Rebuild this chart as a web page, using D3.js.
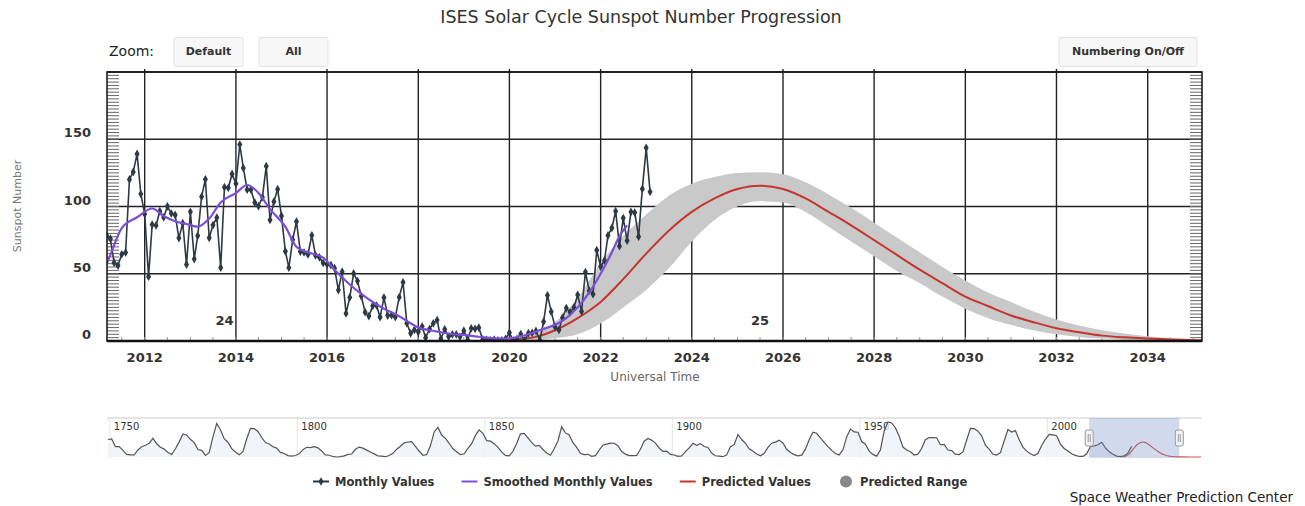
<!DOCTYPE html>
<html lang="en">
<head>
<meta charset="utf-8">
<title>ISES Solar Cycle Sunspot Number Progression</title>
<style>
  body { margin: 0; background: #fff; }
  svg { display: block; font-family: "DejaVu Sans", sans-serif; }
</style>
<script src="https://cdn.jsdelivr.net/npm/d3@7"></script>
</head>
<body>
<div id="viz"></div>
<script>

// observed monthly sunspot numbers, Feb 2011 .. Feb 2023
var monthlyStart = "2011-02";
var monthlyValues = [
  48.3, 78.6, 76.1, 58.2, 56.1, 64.5, 65.8, 120.1, 125.7, 139.1, 109.3,
  94.4, 47.8, 86.6, 85.9, 96.5, 92.0, 100.1, 94.8, 93.7, 76.5, 87.6, 56.8,
  96.1, 60.9, 78.3, 107.3, 120.2, 76.7, 86.2, 91.8, 54.5, 114.4, 113.9, 124.2,
  117.0, 146.1, 128.7, 112.5, 112.5, 102.9, 100.2, 106.9, 130.0, 90.0, 103.6, 112.9,
  93.0, 66.7, 54.5, 75.3, 88.8, 66.5, 65.8, 64.4, 78.6, 63.6, 62.2, 58.0,
  57.0, 56.4, 54.1, 37.9, 51.5, 20.5, 32.4, 50.2, 44.6, 33.4, 21.4, 18.5,
  26.1, 26.4, 17.7, 32.3, 18.9, 19.2, 17.8, 32.6, 43.6, 13.2, 5.7, 8.2,
  6.8, 10.7, 2.5, 8.9, 13.1, 15.6, 1.6, 8.7, 3.3, 4.9, 4.9, 3.1,
  7.7, 0.8, 9.4, 9.1, 9.9, 1.2, 0.9, 0.5, 1.1, 0.4, 0.5, 1.5,
  6.2, 0.2, 1.5, 5.2, 0.2, 5.8, 6.1, 7.5, 0.6, 14.4, 34.0, 21.8,
  10.4, 8.2, 17.2, 24.5, 21.2, 25.0, 34.3, 22.0, 51.3, 37.4, 34.8, 67.5,
  55.3, 59.9, 78.5, 84.1, 96.5, 70.5, 91.4, 74.6, 96.0, 95.5, 77.6, 113.1,
  143.6, 110.9
];

// smoothed monthly values
var smoothedDates = ["2011-03", "2011-04", "2011-07", "2011-11", "2012-03", "2012-06", "2012-09", "2012-12",
  "2013-03", "2013-06", "2013-09", "2014-01", "2014-04", "2014-07", "2014-10", "2015-02", "2015-05",
  "2015-09", "2015-12", "2016-03", "2016-07", "2016-10", "2017-01", "2017-04", "2017-07", "2017-10",
  "2018-01", "2018-04", "2018-07", "2018-10", "2019-01", "2019-04", "2019-07", "2019-12", "2020-04",
  "2020-07", "2020-10", "2021-01", "2021-04", "2021-07", "2021-10", "2022-01", "2022-04", "2022-06", "2022-08"];
var smoothedValues = [57, 64, 84, 92, 98.5, 93, 89, 87,
  85, 91, 103, 110, 116, 110, 98, 85, 70,
  65, 62, 53, 42, 35, 29, 24, 20, 15,
  10, 8, 6.5, 5, 4.5, 3.5, 2.5, 1.8, 3.5,
  6, 9, 12, 17, 25, 36, 50, 66, 78, 86];

// predicted values and range
var predDates = ["2020-01", "2020-07", "2021-01", "2021-07", "2022-01", "2022-07", "2023-01", "2023-07",
  "2024-01", "2024-07", "2025-01", "2025-07", "2026-01", "2026-07", "2027-01", "2027-07", "2028-01",
  "2028-07", "2029-01", "2029-07", "2030-01", "2030-07", "2031-01", "2031-07", "2032-01", "2032-07",
  "2033-01", "2033-07", "2034-01", "2034-07", "2035-01", "2035-07", "2036-07", "2038-01", "2041-01"];
var predValues = [1, 2.5, 8, 17, 29, 46, 65, 82,
  96, 106, 113, 115.5, 113, 106, 96, 86, 75,
  64, 53, 43, 33, 26, 19, 14, 9.5, 6.5,
  4, 2.7, 1.8, 1.1, 0.6, 0.3, 0.2, 0.1, 0];
var predHigh = [1.5, 5, 14, 32, 58, 78, 94, 108,
  117, 122, 125, 125.5, 124, 118, 109, 99, 88,
  77, 66, 55, 45, 36, 29, 22, 16, 11.5,
  8, 5.5, 3.5, 2.2, 1.4, 0.9, 0.5, 0.3, 0.1];
var predLow = [0, 0.5, 2, 5, 13, 25, 38, 54,
  74, 90, 100, 104, 103, 96, 85, 74, 63,
  52, 43, 33, 24, 17, 12, 8, 5, 3,
  1.8, 1, 0.6, 0.3, 0.1, 0, 0, 0, 0];

// yearly sunspot numbers for the navigator, 1749 .. 2022
var historyStart = 1749;
var historyValues = [
  134.7, 139.0, 79.5, 79.7, 51.2, 20.3, 16.0, 17.0, 54.0, 79.3, 90.0, 104.8, 143.2, 102.0, 75.2, 60.7,
  34.8, 19.0, 63.0, 116.3, 176.8, 168.0, 136.0, 110.8, 58.0, 51.0, 11.7, 33.0, 154.2, 257.3, 209.8,
  141.3, 113.5, 64.2, 38.0, 17.0, 40.2, 138.2, 220.0, 218.2, 196.8, 149.8, 111.0, 100.0, 78.2, 68.3,
  35.5, 26.7, 10.7, 6.8, 11.3, 24.2, 56.7, 75.0, 71.8, 79.2, 70.3, 46.8, 16.8, 13.5, 4.2, 0.0, 2.3,
  8.3, 20.3, 23.2, 59.0, 76.3, 68.3, 52.9, 38.5, 24.2, 9.2, 6.3, 2.2, 11.4, 28.2, 59.9, 83.0, 108.5,
  115.2, 117.4, 80.8, 44.3, 13.4, 19.5, 85.8, 192.7, 227.3, 168.7, 143.0, 105.5, 63.3, 40.3, 18.1,
  25.1, 65.8, 102.7, 166.3, 208.3, 182.5, 126.3, 122.0, 102.7, 74.1, 39.0, 12.7, 8.2, 43.4, 104.4,
  178.3, 182.2, 146.6, 112.1, 83.5, 89.2, 57.8, 30.7, 13.9, 62.8, 123.6, 232.0, 185.3, 169.2, 110.1,
  74.5, 28.3, 18.9, 20.7, 5.7, 10.0, 53.7, 90.5, 99.0, 106.1, 105.8, 86.3, 42.4, 21.8, 11.2, 10.4,
  11.8, 59.5, 121.7, 142.0, 130.0, 106.6, 69.4, 43.8, 44.4, 20.2, 15.7, 4.6, 8.5, 40.8, 70.1, 105.5,
  90.1, 102.8, 80.9, 73.2, 30.9, 9.5, 6.0, 2.4, 16.1, 79.0, 95.0, 173.6, 134.6, 105.7, 62.7, 43.5,
  23.7, 9.7, 27.9, 74.0, 106.5, 114.7, 129.7, 108.2, 59.4, 35.1, 18.6, 9.2, 14.6, 60.2, 132.8, 190.6,
  182.6, 148.0, 113.0, 79.2, 50.8, 27.1, 16.1, 55.3, 154.3, 214.7, 193.0, 190.7, 118.9, 98.3, 45.0,
  20.1, 6.6, 54.2, 200.7, 269.3, 261.7, 225.1, 159.0, 76.4, 53.4, 39.9, 15.0, 22.0, 66.8, 132.9,
  150.0, 149.4, 148.0, 94.4, 97.6, 54.1, 49.2, 22.5, 18.4, 39.3, 131.0, 220.1, 218.9, 198.9, 162.4,
  91.0, 60.5, 20.6, 14.8, 33.9, 123.0, 211.1, 191.8, 203.3, 133.0, 76.1, 44.9, 25.1, 11.6, 28.9,
  88.3, 136.3, 173.9, 170.4, 163.6, 99.3, 65.3, 45.8, 24.7, 12.6, 4.2, 4.8, 24.9, 80.8, 84.5, 94.0,
  113.3, 69.8, 39.8, 21.7, 7.0, 3.6, 8.8, 29.6, 83.2
];

var cycleLabels = ["24", "25"];
var cycleDates = ["2013-10", "2025-07"];
var yTicks = [0, 50, 100, 150];
var navTicks = [1750, 1800, 1850, 1900, 1950, 2000];
var legendNames = ["Monthly Values", "Smoothed Monthly Values", "Predicted Values", "Predicted Range"];

var parseM = d3.utcParse("%Y-%m");
var sm = parseM(monthlyStart);
var monthly = monthlyValues.map(function(v, i) {
  return {date: d3.utcMonth.offset(sm, i), value: v};
});
var smoothed = smoothedDates.map(function(d, i) { return {date: parseM(d), value: smoothedValues[i]}; });
var pred = predDates.map(function(d, i) {
  return {date: parseM(d), value: predValues[i], hi: predHigh[i], lo: predLow[i]};
});
var historyData = historyValues.map(function(v, i) {
  return {date: new Date(Date.UTC(historyStart + i, 6, 1)), value: v};
});

var colMonthly = '#2b3a44', colSmooth = '#7d4ed8', colPred = '#c4362c', colRange = '#c9c9c9';

var svg = d3.select('#viz').append('svg').attr('width', 1305).attr('height', 506);

var L = 107, R = 1202, T = 72, B = 341;
var x = d3.scaleUtc()
  .domain([new Date(Date.UTC(2011, 2, 5)), new Date(Date.UTC(2035, 2, 12))])
  .range([L, R]);
var y = d3.scaleLinear().domain([0, 200]).range([B, T]);

// title
svg.append('text').attr('x', 641).attr('y', 23).attr('text-anchor', 'middle')
  .style('font-size', '17.5px').style('fill', '#333')
  .text('ISES Solar Cycle Sunspot Number Progression');

// buttons
svg.append('text').attr('x', 109).attr('y', 56).style('font-size', '14px').style('fill', '#222').text('Zoom:');
var buttons = [
  {label: 'Default', x: 174, w: 69},
  {label: 'All', x: 259, w: 69},
  {label: 'Numbering On/Off', x: 1059, w: 138}
];
buttons.forEach(function(b) {
  svg.append('rect').attr('x', b.x).attr('y', 37.5).attr('width', b.w).attr('height', 29).attr('rx', 2)
    .style('fill', '#f7f7f7').style('stroke', '#e3e3e3');
  svg.append('text').attr('x', b.x + b.w / 2).attr('y', 55).attr('text-anchor', 'middle')
    .style('font-size', '11px').style('fill', '#333').style('font-weight', 'bold').text(b.label);
});

svg.append('clipPath').attr('id', 'plotclip').append('rect')
  .attr('x', L).attr('y', T).attr('width', R - L).attr('height', B - T);

// grid
var grid = svg.append('g');
x.ticks(d3.utcYear.every(2)).forEach(function(d) {
  grid.append('line').attr('x1', x(d)).attr('x2', x(d)).attr('y1', T - 3).attr('y2', B)
    .style('stroke', '#222').style('stroke-width', 1.4);
});
yTicks.concat([200]).forEach(function(v) {
  grid.append('line').attr('x1', L).attr('x2', R).attr('y1', y(v)).attr('y2', y(v))
    .style('stroke', '#222').style('stroke-width', 1.4);
});
// minor ticks
d3.range(0, 200, 2.5).forEach(function(v) {
  grid.append('line').attr('x1', L).attr('x2', L + 12).attr('y1', y(v)).attr('y2', y(v))
    .style('stroke', '#666').style('stroke-width', 1);
  grid.append('line').attr('x1', R - 12).attr('x2', R).attr('y1', y(v)).attr('y2', y(v))
    .style('stroke', '#666').style('stroke-width', 1);
});
x.ticks(d3.utcMonth.every(6)).forEach(function(d) {
  grid.append('line').attr('x1', x(d)).attr('x2', x(d)).attr('y1', B - 4).attr('y2', B)
    .style('stroke', '#999').style('stroke-width', 1);
});

// predicted range and values
var plot = svg.append('g').attr('clip-path', 'url(#plotclip)');
plot.append('path').datum(pred)
  .attr('d', d3.area().curve(d3.curveMonotoneX)
    .x(function(d) { return x(d.date); })
    .y0(function(d) { return y(d.lo); })
    .y1(function(d) { return y(d.hi); }))
  .style('fill', colRange);
plot.append('path').datum(pred)
  .attr('d', d3.line().curve(d3.curveMonotoneX)
    .x(function(d) { return x(d.date); }).y(function(d) { return y(d.value); }))
  .style('fill', 'none').style('stroke', colPred).style('stroke-width', 2);

// monthly
plot.append('path').datum(monthly)
  .attr('d', d3.line().x(function(d) { return x(d.date); }).y(function(d) { return y(d.value); }))
  .style('fill', 'none').style('stroke', colMonthly).style('stroke-width', 1.6);
var diamond = d3.symbol().type(d3.symbolDiamond).size(22);
plot.selectAll('.mk').data(monthly).enter().append('path').attr('class', 'mk')
  .attr('transform', function(d) { return 'translate(' + x(d.date) + ',' + y(d.value) + ')'; })
  .attr('d', diamond).style('fill', colMonthly);

// smoothed
plot.append('path').datum(smoothed)
  .attr('d', d3.line().curve(d3.curveMonotoneX)
    .x(function(d) { return x(d.date); }).y(function(d) { return y(d.value); }))
  .style('fill', 'none').style('stroke', colSmooth).style('stroke-width', 2.2);

// border
svg.append('rect').attr('x', L).attr('y', T).attr('width', R - L).attr('height', B - T)
  .style('fill', 'none').style('stroke', '#111').style('stroke-width', 1.5);
svg.append('line').attr('x1', L).attr('x2', R).attr('y1', B).attr('y2', B)
  .style('stroke', '#111').style('stroke-width', 2.5);

// axis labels
x.ticks(d3.utcYear.every(2)).forEach(function(d) {
  svg.append('text').attr('x', x(d)).attr('y', 362).attr('text-anchor', 'middle')
    .style('font-size', '13px').style('font-weight', 'bold').style('fill', '#333')
    .text(d3.utcFormat('%Y')(d));
});
yTicks.forEach(function(v) {
  svg.append('text').attr('x', 91).attr('y', y(v) - 2).attr('text-anchor', 'end')
    .style('font-size', '13px').style('font-weight', 'bold').style('fill', '#333').text(v);
});
svg.append('text').attr('x', 655).attr('y', 381).attr('text-anchor', 'middle')
  .style('font-size', '12px').style('fill', '#666').text('Universal Time');
svg.append('text').attr('transform', 'translate(21,206) rotate(-90)').attr('text-anchor', 'middle')
  .style('font-size', '11px').style('fill', '#777').text('Sunspot Number');

// cycle numbers
cycleLabels.forEach(function(c, i) {
  svg.append('text').attr('x', x(parseM(cycleDates[i]))).attr('y', y(12)).attr('text-anchor', 'middle')
    .style('font-size', '13px').style('font-weight', 'bold').style('fill', '#333').text(c);
});

// navigator
var NT = 418, NB = 458;
var xn = d3.scaleUtc()
  .domain([new Date(Date.UTC(1749, 3, 1)), new Date(Date.UTC(2041, 3, 1))])
  .range([L, R]);
var yn = d3.scaleLinear().domain([0, 300]).range([457, NT]);
var nav = svg.append('g');
navTicks.forEach(function(t) {
  var xx = xn(new Date(Date.UTC(t, 0, 1)));
  nav.append('line').attr('x1', xx).attr('x2', xx).attr('y1', NT).attr('y2', NB)
    .style('stroke', '#e6e6e6');
  nav.append('text').attr('x', xx + 4).attr('y', 430).style('font-size', '10px').style('fill', '#333').text(t);
});
nav.append('path').datum(historyData)
  .attr('d', d3.area().x(function(d) { return xn(d.date); }).y0(yn(0)).y1(function(d) { return yn(d.value); }))
  .style('fill', '#eef1f6').style('opacity', 0.8);
nav.append('path').datum(historyData)
  .attr('d', d3.line().x(function(d) { return xn(d.date); }).y(function(d) { return yn(d.value); }))
  .style('fill', 'none').style('stroke', '#555').style('stroke-width', 1.2);
nav.append('path').datum(pred)
  .attr('d', d3.line().curve(d3.curveMonotoneX)
    .x(function(d) { return xn(d.date); }).y(function(d) { return yn(d.value); }))
  .style('fill', 'none').style('stroke', '#d9534f').style('stroke-width', 1.2);
nav.append('line').attr('x1', L).attr('x2', R).attr('y1', NT).attr('y2', NT).style('stroke', '#ccc');
var s0 = xn(x.domain()[0]), s1 = xn(x.domain()[1]);
nav.append('rect').attr('x', s0).attr('y', NT).attr('width', s1 - s0).attr('height', NB - NT)
  .style('fill', 'rgba(102,133,194,0.3)');
[s0, s1].forEach(function(sx) {
  nav.append('rect').attr('x', sx - 4).attr('y', 430).attr('width', 8).attr('height', 16).attr('rx', 2)
    .style('fill', '#f2f2f2').style('stroke', '#999');
  nav.append('line').attr('x1', sx - 1).attr('x2', sx - 1).attr('y1', 434).attr('y2', 442).style('stroke', '#999');
  nav.append('line').attr('x1', sx + 1).attr('x2', sx + 1).attr('y1', 434).attr('y2', 442).style('stroke', '#999');
});

// legend
var leg = svg.append('g');
var lx = 313, ly = 486;
legendNames.forEach(function(name, i) {
  if (i === 3) {
    leg.append('circle').attr('cx', lx + 8).attr('cy', ly - 4.5).attr('r', 6).style('fill', '#888');
  } else {
    var c = [colMonthly, colSmooth, colPred][i];
    leg.append('line').attr('x1', lx).attr('x2', lx + 16).attr('y1', ly - 4.5).attr('y2', ly - 4.5)
      .style('stroke', c).style('stroke-width', 2);
    if (i === 0) {
      leg.append('path').attr('transform', 'translate(' + (lx + 8) + ',' + (ly - 4.5) + ')')
        .attr('d', diamond).style('fill', c);
    }
  }
  var t = leg.append('text').attr('x', lx + 22).attr('y', ly)
    .style('font-size', '11.5px').style('font-weight', 'bold').style('fill', '#333').text(name);
  lx += 22 + t.node().getComputedTextLength() + 27;
});

svg.append('text').attr('x', 1293).attr('y', 502).attr('text-anchor', 'end')
  .style('font-size', '13.5px').style('fill', '#222').text('Space Weather Prediction Center');

</script>
</body>
</html>
